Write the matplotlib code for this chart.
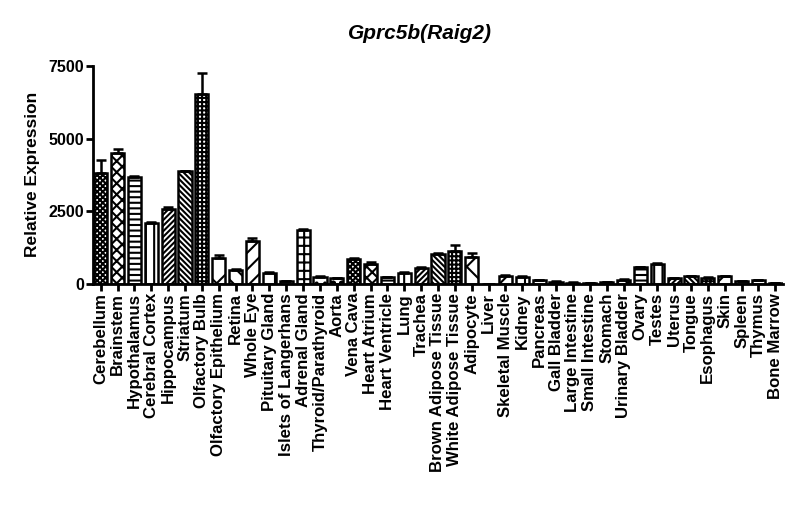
import numpy as np
import matplotlib
matplotlib.use("Agg")
import matplotlib.pyplot as plt

tissues = [
    "Cerebellum", "Brainstem", "Hypothalamus", "Cerebral Cortex", "Hippocampus",
    "Striatum", "Olfactory Bulb", "Olfactory Epithelium", "Retina", "Whole Eye",
    "Pituitary Gland", "Islets of Langerhans", "Adrenal Gland", "Thyroid/Parathyroid",
    "Aorta", "Vena Cava", "Heart Atrium", "Heart Ventricle", "Lung", "Trachea",
    "Brown Adipose Tissue", "White Adipose Tissue", "Adipocyte", "Liver",
    "Skeletal Muscle", "Kidney", "Pancreas", "Gall Bladder", "Large Intestine",
    "Small Intestine", "Stomach", "Urinary Bladder", "Ovary", "Testes", "Uterus",
    "Tongue", "Esophagus", "Skin", "Spleen", "Thymus", "Bone Marrow",
]
expression = [3800, 4510, 3680, 2110, 2590, 3870, 6540, 890, 470, 1460,
              360, 100, 1850, 240, 200, 870, 700, 240, 380, 550,
              1020, 1120, 930, 10, 290, 240, 130, 80, 50, 40,
              70, 150, 580, 690, 200, 260, 220, 260, 90, 120, 40]
sem_upper = [450, 130, 30, 20, 50, 30, 710, 100, 50, 110,
             60, 10, 30, 20, 20, 20, 60, 10, 40, 20,
             50, 230, 120, 0, 20, 20, 10, 10, 10, 10,
             10, 10, 20, 30, 20, 10, 10, 10, 10, 10, 10]

# GraphPad style repeating fill patterns (cycle of 15)
patterns = ["xxxxxx", "xxx", "---", "||", "//////", "\\\\\\\\\\\\", "++++", "x",
            "\\\\", "//", "|", "-", "++", "..", "oo"]

plt.rcParams["font.family"] = ["Liberation Sans", "DejaVu Sans"]
plt.rcParams["font.weight"] = "bold"
plt.rcParams["hatch.linewidth"] = 1.5

fig = plt.figure(figsize=(8, 5.22), dpi=100)
ax = fig.add_axes([0.116, 0.456, 0.863, 0.418])

x = np.arange(len(tissues))
hatches = [patterns[i % len(patterns)] for i in range(len(tissues))]
bars = ax.bar(x, expression, width=0.78, color="white", edgecolor="black",
              linewidth=1.8, hatch=hatches, zorder=2)
ax.errorbar(x, expression, yerr=[np.zeros(len(x)), sem_upper], fmt="none",
            ecolor="black", elinewidth=1.8, capsize=3.5, capthick=1.8, zorder=3)

ax.set_xlim(-0.47, 40.47)
ax.set_ylim(0, 7500)
ax.set_yticks([0, 2500, 5000, 7500])
ax.set_xticks(x)
ax.set_xticklabels(tissues, rotation=90, fontsize=12.1, fontweight="bold")
for lbl in ax.get_yticklabels():
    lbl.set_fontsize(11.5)
    lbl.set_fontweight("bold")

for side in ["top", "right"]:
    ax.spines[side].set_visible(False)
for side in ["left", "bottom"]:
    ax.spines[side].set_linewidth(2)
ax.tick_params(axis="both", direction="out", length=5, width=2, pad=1.5)

ax.set_ylabel("Relative Expression", fontsize=12.5, fontweight="bold", labelpad=6)
fig.text(0.525, 0.935, "Gprc5b(Raig2)", fontsize=15, fontweight="bold",
         fontstyle="italic", ha="center", va="center")

fig.savefig("out.png", dpi=100, facecolor="white")
